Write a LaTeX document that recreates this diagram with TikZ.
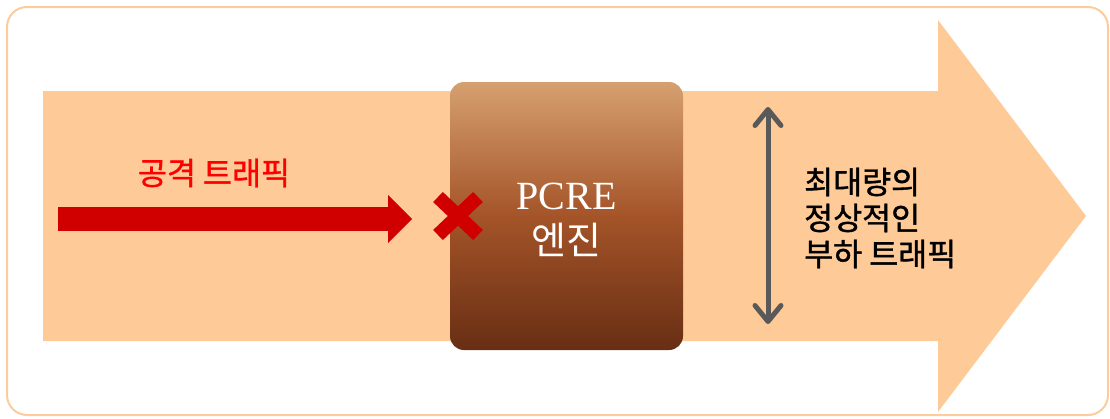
\documentclass[tikz,border=0pt]{standalone}
\usepackage{fontspec}
\newfontfamily\kr{Noto Sans CJK KR}
\newfontfamily\krb{Noto Sans CJK KR}[FakeBold=1.2]
\newfontfamily\serifl{Liberation Serif}
\usetikzlibrary{arrows.meta}
\definecolor{peach}{RGB}{254,203,152}
\definecolor{frameC}{RGB}{252,204,158}
\definecolor{xred}{RGB}{208,0,0}
\definecolor{grayarrow}{RGB}{89,89,89}
\definecolor{btop}{RGB}{214,160,112}
\definecolor{bmid}{RGB}{164,84,40}
\definecolor{bbot}{RGB}{104,46,20}
\tikzset{
  framebox/.style={draw=frameC, line width=2pt, rounded corners=20pt},
  flow/.style={fill=peach},
  engine/.style={top color=btop, bottom color=bbot, middle color=bmid, rounded corners=14pt,
    minimum width=233pt, minimum height=268pt, inner sep=0pt},
  attack/.style={xred, line width=24pt, -{Triangle[length=24pt,width=48pt,line width=0pt]}},
  cross/.style={xred, line width=14pt},
  loadrange/.style={grayarrow, line width=5pt, {Straight Barb[length=16pt,width=26pt,round]}-{Straight Barb[length=16pt,width=26pt,round]}},
  krlabel/.style={font=\krb\fontsize{31.5}{36}\selectfont, inner sep=0pt}
}
\begin{document}
\begin{tikzpicture}[x=1pt,y=-1pt]
\useasboundingbox (0,0) rectangle (1110,418);
\draw[framebox] (7,7) rectangle (1108,415);
\fill[flow] (43,91) -- (938,91) -- (938,20) -- (1086,216) -- (938,412) -- (938,341) -- (43,341) -- cycle;
\node[engine] (eng) at (566.5,216) {};
\node[text=white, align=center, inner sep=0pt, font=\fontsize{40}{45}\selectfont] (englabel) at (566.5,220)
  {{\serifl PCRE}\\{\kr\fontsize{38}{45}\selectfont 엔진}};
\coordinate (ras) at (58,219);
\coordinate (rae) at (412,219);
\draw[attack] (ras) -- (rae);
\node[krlabel, text=red] (atklabel) at (214,173) {공격 트래픽};
\coordinate (x1) at (438,197);
\coordinate (x2) at (478,235);
\coordinate (x3) at (478,197);
\coordinate (x4) at (438,235);
\draw[cross] (x1) -- (x2);
\draw[cross] (x3) -- (x4);
\coordinate (gt) at (768,107);
\coordinate (gb) at (768,324);
\draw[loadrange] (gt) -- (gb);
\node[krlabel, align=left, anchor=west] (normlabel) at (804,218) {최대량의\\정상적인\\부하 트래픽};
\end{tikzpicture}
\end{document}
